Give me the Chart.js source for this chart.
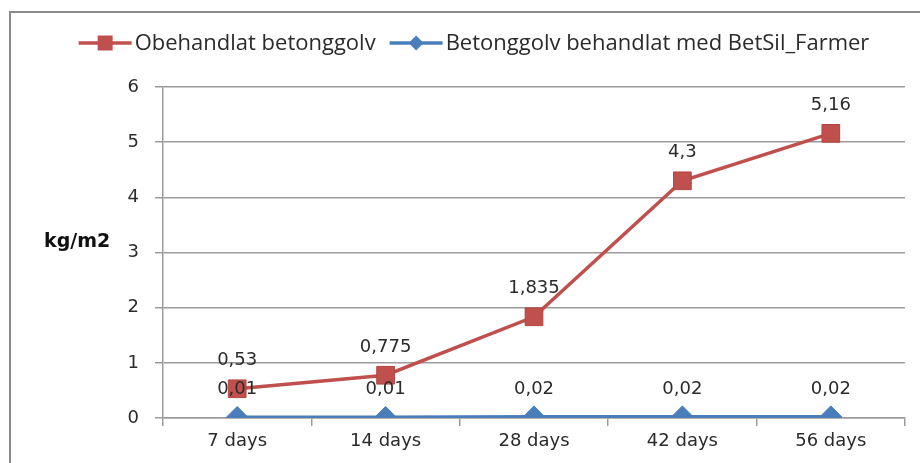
<!DOCTYPE html>
<html>
<head>
<meta charset="utf-8">
<script src="https://cdn.jsdelivr.net/npm/chart.js@4.4.0/dist/chart.umd.min.js"></script>
<style>
    html, body { margin: 0; padding: 0; background: #fff; }
    #wrap { width: 920px; height: 463px; }
</style>
</head>
<body>
<div id="wrap"><canvas id="ChartBetong" width="920" height="463"></canvas></div>
<script>
const kategorier = ['7 days', '14 days', '28 days', '42 days', '56 days'];
const obehandlat = [0.53, 0.775, 1.835, 4.3, 5.16];
const behandlat = [0.01, 0.01, 0.02, 0.02, 0.02];
const yTicks = [0, 1, 2, 3, 4, 5, 6];
const serieNamn = ['Obehandlat betonggolv', 'Betonggolv behandlat med BetSil_Farmer'];
const yTitel = 'kg/m2';

document.addEventListener('DOMContentLoaded', (event) => {
    const gridFarg = '#9b9b9b';
    const textFarg = '#2b2b2b';
    const tickFont = { family: 'DejaVu Sans', size: 18 };

    // ram runt hela diagrammet (hoger/nedre kant utanfor bilden)
    const ramPlugin = {
        id: 'ram',
        beforeDraw(chart) {
            const c = chart.ctx;
            c.save();
            c.fillStyle = '#ffffff';
            c.fillRect(0, 0, chart.width, chart.height);
            c.strokeStyle = '#8a8a8a';
            c.lineWidth = 2;
            c.strokeRect(10, 12, chart.width + 20, chart.height + 20);
            c.restore();
        }
    };

    // varden ovanfor punkterna, med decimalkomma
    const etikettPlugin = {
        id: 'etiketter',
        afterDatasetsDraw(chart) {
            const c = chart.ctx;
            c.save();
            c.font = '18px "DejaVu Sans"';
            c.fillStyle = textFarg;
            c.textAlign = 'center';
            c.textBaseline = 'middle';
            chart.data.datasets.forEach((ds, i) => {
                chart.getDatasetMeta(i).data.forEach((pt, j) => {
                    const text = String(ds.data[j]).replace('.', ',');
                    c.fillText(text, pt.x, pt.y - 28);
                });
            });
            c.restore();
        }
    };

    // legend med linje + markor, som i Excel
    const legendPlugin = {
        id: 'excelLegend',
        afterDraw(chart) {
            const c = chart.ctx;
            const y = 43;
            const linje = 53;
            const gap = 3;
            const mellan = 14;
            c.save();
            c.font = '22px "Open Sans"';
            const bredder = chart.data.datasets.map(ds => c.measureText(ds.label).width);
            const total = bredder.reduce((a, b) => a + b, 0) + chart.data.datasets.length * (linje + gap) + mellan;
            let x = 474 - total / 2;
            chart.data.datasets.forEach((ds, i) => {
                c.strokeStyle = ds.borderColor;
                c.lineWidth = 3.5;
                c.beginPath();
                c.moveTo(x, y);
                c.lineTo(x + linje, y);
                c.stroke();
                c.fillStyle = ds.pointBackgroundColor;
                const mx = x + linje / 2;
                if (ds.pointStyle === 'rect') {
                    c.fillRect(mx - 7.5, y - 7.5, 15, 15);
                } else {
                    c.beginPath();
                    c.moveTo(mx, y - 7.5);
                    c.lineTo(mx + 7.5, y);
                    c.lineTo(mx, y + 7.5);
                    c.lineTo(mx - 7.5, y);
                    c.closePath();
                    c.fill();
                }
                c.fillStyle = textFarg;
                c.textAlign = 'left';
                c.textBaseline = 'middle';
                c.fillText(ds.label, x + linje + gap, y + 1);
                x += linje + gap + bredder[i] + mellan;
            });
            c.restore();
        }
    };

    // y-axelns titel ligger vagrat till vanster om skalan
    const yTitelPlugin = {
        id: 'yTitel',
        afterDraw(chart) {
            const c = chart.ctx;
            c.save();
            c.font = 'bold 19px "DejaVu Sans"';
            c.fillStyle = '#111111';
            c.textAlign = 'left';
            c.textBaseline = 'middle';
            c.fillText(yTitel, 44, 242);
            c.restore();
        }
    };

    const ctx = document.getElementById('ChartBetong').getContext('2d');
    const chartBetong = new Chart(ctx, {
        type: 'line',
        data: {
            labels: kategorier,
            datasets: [{
                label: serieNamn[0],
                data: obehandlat,
                borderColor: '#C0504D',
                backgroundColor: '#C0504D',
                pointBackgroundColor: '#C0504D',
                pointBorderColor: '#B3433F',
                pointBorderWidth: 1,
                pointStyle: 'rect',
                pointRadius: 12.5,
                borderWidth: 3.5,
                tension: 0
            },
            {
                label: serieNamn[1],
                data: behandlat,
                borderColor: '#4A7EBB',
                backgroundColor: '#4A7EBB',
                pointBackgroundColor: '#4A7EBB',
                pointBorderColor: '#4A7EBB',
                pointBorderWidth: 1,
                pointStyle: 'rectRot',
                pointRadius: 11,
                borderWidth: 4,
                tension: 0
            }]
        },
        options: {
            responsive: false,
            animation: false,
            layout: {
                padding: { top: 87, right: 15, bottom: 0, left: 0 }
            },
            plugins: {
                legend: { display: false },
                tooltip: { enabled: false }
            },
            scales: {
                x: {
                    offset: true,
                    grid: {
                        offset: true,
                        drawOnChartArea: false,
                        drawTicks: true,
                        tickLength: 8,
                        color: gridFarg,
                        lineWidth: 1.5
                    },
                    border: { color: gridFarg, width: 1.5 },
                    ticks: { font: tickFont, color: textFarg, padding: 5 },
                    afterFit: (s) => { s.height = 45; }
                },
                y: {
                    min: 0,
                    max: 6,
                    afterBuildTicks: (s) => { s.ticks = yTicks.map(v => ({ value: v })); },
                    grid: {
                        color: gridFarg,
                        lineWidth: 1.5,
                        tickLength: 8
                    },
                    border: { color: gridFarg, width: 1.5 },
                    ticks: { font: tickFont, color: textFarg, padding: 16 },
                    afterFit: (s) => { s.width = 163; }
                }
            }
        },
        plugins: [ramPlugin, etikettPlugin, legendPlugin, yTitelPlugin]
    });
});
</script>
</body>
</html>
